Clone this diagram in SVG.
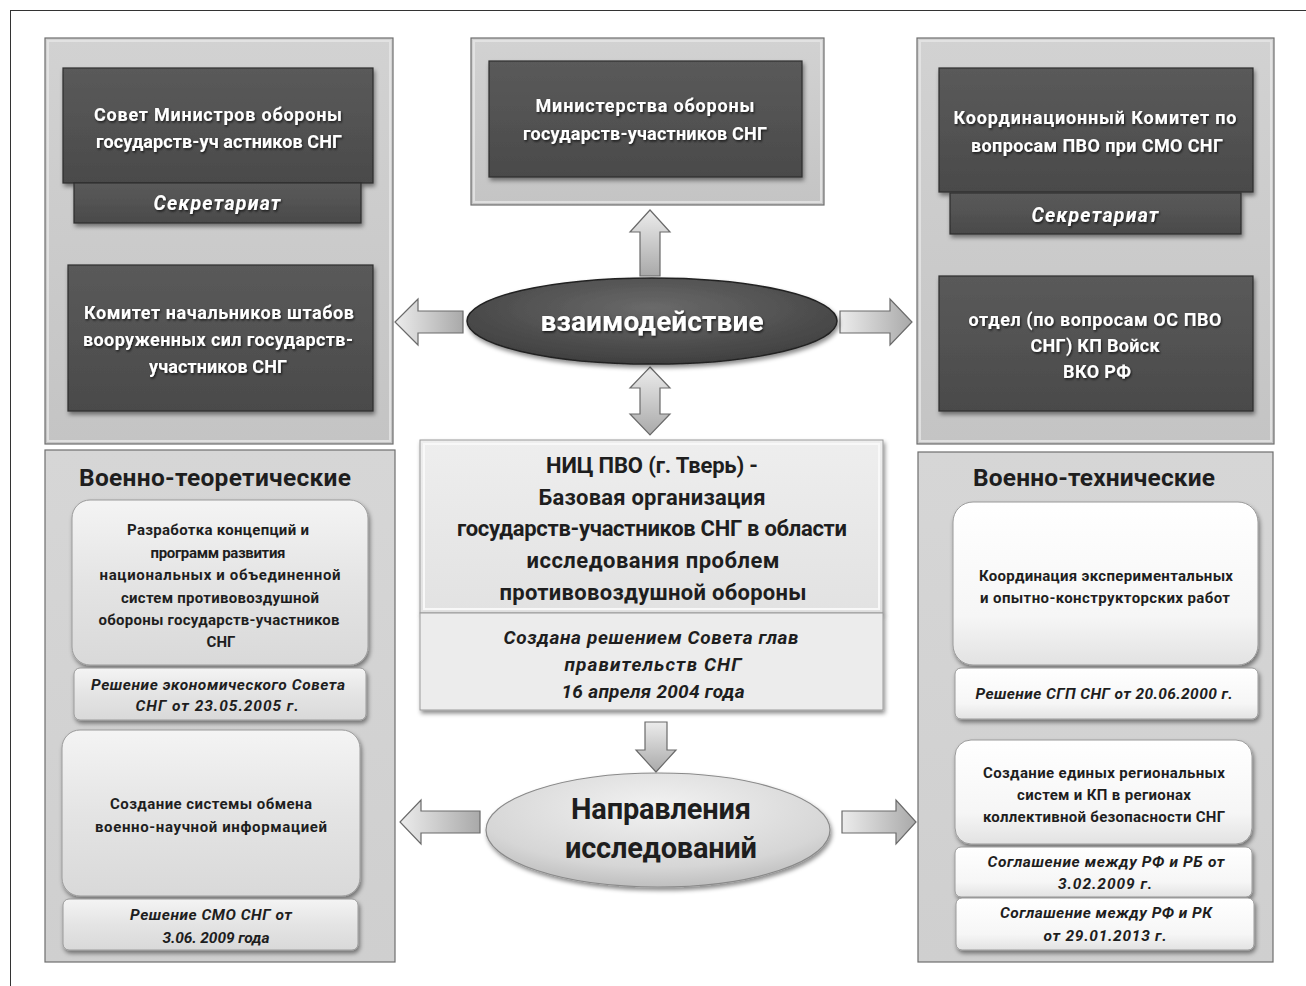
<svg xmlns="http://www.w3.org/2000/svg" width="1306" height="986" viewBox="0 0 1306 986">
<defs>
<style>
text{font-family:Roboto,"Noto Sans","DejaVu Sans",sans-serif;font-weight:bold;text-anchor:middle}
.w{fill:#ffffff}
.d{fill:#1e1e1e}
.it{font-style:italic}
.panel{fill:url(#gPanel);stroke:#6e6e6e;stroke-width:1.2}
.inner{fill:none;stroke:#e6e6e6;stroke-width:2;opacity:.8}
.dark{fill:url(#gDark);stroke:#2e2e2e;stroke-width:1.2;filter:url(#sh)}
.lbox{fill:url(#gLight);stroke:#9a9a9a;stroke-width:1;filter:url(#sh)}
.wbox{fill:url(#gWhite);stroke:#9a9a9a;stroke-width:1;filter:url(#sh)}
.arr{fill:url(#gArr);stroke:#6a6a6a;stroke-width:1.2}
.arrh{fill:url(#gArrH);stroke:#6a6a6a;stroke-width:1.2}
.f18{font-size:18px}
.fs{font-size:19.5px}
.f22{font-size:22px}
.f23{font-size:24.5px}
.f15{font-size:15px}
.fi{font-size:15.5px}
</style>
<linearGradient id="gPanel" x1="0" y1="0" x2="0" y2="1"><stop offset="0" stop-color="#d2d2d2"/><stop offset="1" stop-color="#c4c4c4"/></linearGradient>
<linearGradient id="gPanelL" x1="0" y1="0" x2="0" y2="1"><stop offset="0" stop-color="#d6d6d6"/><stop offset="1" stop-color="#cfcfcf"/></linearGradient>
<linearGradient id="gDark" x1="0" y1="0" x2="0" y2="1"><stop offset="0" stop-color="#5a5a5a"/><stop offset="1" stop-color="#4a4a4a"/></linearGradient>
<linearGradient id="gLight" x1="0" y1="0" x2="0" y2="1"><stop offset="0" stop-color="#f4f4f4"/><stop offset=".5" stop-color="#e4e4e4"/><stop offset="1" stop-color="#d9d9d9"/></linearGradient>
<linearGradient id="gWhite" x1="0" y1="0" x2="0" y2="1"><stop offset="0" stop-color="#ffffff"/><stop offset=".7" stop-color="#f6f6f6"/><stop offset="1" stop-color="#e2e2e2"/></linearGradient>
<linearGradient id="gCenter" x1="0" y1="0" x2="0" y2="1"><stop offset="0" stop-color="#eeeeee"/><stop offset="1" stop-color="#e2e2e2"/></linearGradient>
<linearGradient id="gArr" x1="0" y1="0" x2="1" y2="0"><stop offset="0" stop-color="#ececec"/><stop offset="1" stop-color="#a9a9a9"/></linearGradient>
<linearGradient id="gArrH" x1="0" y1="0" x2="0" y2="1"><stop offset="0" stop-color="#ececec"/><stop offset="1" stop-color="#a9a9a9"/></linearGradient>
<radialGradient id="gEl1" cx=".5" cy=".35" r=".7"><stop offset="0" stop-color="#6a6a6a"/><stop offset="1" stop-color="#3c3c3c"/></radialGradient>
<radialGradient id="gEl2" cx=".5" cy=".3" r=".75"><stop offset="0" stop-color="#f2f2f2"/><stop offset=".7" stop-color="#d6d6d6"/><stop offset="1" stop-color="#b8b8b8"/></radialGradient>
<filter id="sh" x="-10%" y="-10%" width="125%" height="130%"><feDropShadow dx="1.5" dy="3" stdDeviation="2" flood-color="#000" flood-opacity=".45"/></filter>
<filter id="tsh" x="-5%" y="-20%" width="110%" height="150%"><feDropShadow dx="1" dy="1.5" stdDeviation="1" flood-color="#000" flood-opacity=".7"/></filter>
</defs>
<rect width="1306" height="986" fill="#ffffff"/>
<rect x="10.5" y="10.5" width="1310" height="990" fill="none" stroke="#333" stroke-width="1"/>

<g id="connectors">
<path class="arrh" d="M640 276 V232 H630 L650 210 L670 232 H660 V276 Z"/>
<path class="arr" d="M463 311 H418 V299 L395 322 L418 345 V333 H463 Z"/>
<path class="arr" d="M840 311 H890 V299 L912 322 L890 345 V333 H840 Z"/>
<path class="arrh" d="M650 367 L670 388 H660 V414 H670 L650 435 L630 414 H640 V388 H630 Z"/>
<path class="arrh" d="M645 722 H667 V750 H676 L656 772 L636 750 H645 Z"/>
<path class="arr" d="M480 811 H421 V800 L400 822 L421 844 V833 H480 Z"/>
<path class="arr" d="M842 811 H896 V800 L916 822 L896 844 V833 H842 Z"/>
</g>

<g id="panel-left-top">
<rect class="panel" x="45" y="38" width="348" height="406"/>
<rect class="inner" x="48" y="41" width="342" height="400"/>
</g>
<g id="node-sovet">
<rect class="dark" x="63" y="68" width="310" height="115"/>
<text class="w f18" x="218" y="121" textLength="248" lengthAdjust="spacing" filter="url(#tsh)">Совет Министров обороны</text>
<text class="w f18" x="219" y="148" textLength="246" lengthAdjust="spacing" filter="url(#tsh)">государств-уч астников СНГ</text>
</g>
<g id="node-sekr1">
<rect class="dark" x="74" y="183" width="287" height="40"/>
<text class="w it fs" x="217" y="210" textLength="127" lengthAdjust="spacing" filter="url(#tsh)">Секретариат</text>
</g>
<g id="node-komitet">
<rect class="dark" x="68" y="265" width="305" height="146"/>
<text class="w f18" x="219" y="319" textLength="270" lengthAdjust="spacing" filter="url(#tsh)">Комитет начальников штабов</text>
<text class="w f18" x="218" y="346" textLength="270" lengthAdjust="spacing" filter="url(#tsh)">вооруженных сил государств-</text>
<text class="w f18" x="218" y="373" textLength="138" lengthAdjust="spacing" filter="url(#tsh)">участников СНГ</text>
</g>

<g id="panel-center-top">
<rect class="panel" x="471" y="38" width="353" height="167"/>
<rect class="inner" x="474" y="41" width="347" height="161"/>
</g>
<g id="node-ministerstva">
<rect class="dark" x="489" y="61" width="313" height="116"/>
<text class="w f18" x="645" y="112" textLength="219" lengthAdjust="spacing" filter="url(#tsh)">Министерства обороны</text>
<text class="w f18" x="645" y="140" textLength="244" lengthAdjust="spacing" filter="url(#tsh)">государств-участников СНГ</text>
</g>

<g id="panel-right-top">
<rect class="panel" x="917" y="38" width="357" height="406"/>
<rect class="inner" x="920" y="41" width="351" height="400"/>
</g>
<g id="node-koord">
<rect class="dark" x="939" y="68" width="314" height="124"/>
<text class="w f18" x="1095" y="124" textLength="283" lengthAdjust="spacing" filter="url(#tsh)">Координационный Комитет по</text>
<text class="w f18" x="1097" y="152" textLength="252" lengthAdjust="spacing" filter="url(#tsh)">вопросам ПВО при СМО СНГ</text>
</g>
<g id="node-sekr2">
<rect class="dark" x="950" y="193" width="291" height="41"/>
<text class="w it fs" x="1095" y="222" textLength="127" lengthAdjust="spacing" filter="url(#tsh)">Секретариат</text>
</g>
<g id="node-otdel">
<rect class="dark" x="939" y="276" width="314" height="135"/>
<text class="w f18" x="1095" y="326" textLength="253" lengthAdjust="spacing" filter="url(#tsh)">отдел (по вопросам ОС ПВО</text>
<text class="w f18" x="1095" y="352" textLength="129" lengthAdjust="spacing" filter="url(#tsh)">СНГ) КП Войск</text>
<text class="w f18" x="1097" y="378" textLength="68" lengthAdjust="spacing" filter="url(#tsh)">ВКО РФ</text>
</g>

<g id="node-vzaim">
<ellipse cx="652" cy="321" rx="185" ry="43" fill="url(#gEl1)" stroke="#222" stroke-width="1.5" filter="url(#sh)"/>
<text class="w" x="652" y="331" font-size="28" textLength="223" lengthAdjust="spacing" filter="url(#tsh)">взаимодействие</text>
</g>

<g id="node-nic">
<rect x="420" y="440" width="463" height="173" fill="url(#gCenter)" stroke="#9a9a9a" stroke-width="1" filter="url(#sh)"/>
<rect x="424" y="444" width="455" height="165" fill="none" stroke="#f8f8f8" stroke-width="2"/>
<text class="d f22" x="652" y="473" textLength="212" lengthAdjust="spacing">НИЦ ПВО (г. Тверь) -</text>
<text class="d f22" x="652" y="505" textLength="227" lengthAdjust="spacing">Базовая организация</text>
<text class="d f22" x="652" y="536" textLength="390" lengthAdjust="spacing">государств-участников СНГ в области</text>
<text class="d f22" x="653" y="568" textLength="253" lengthAdjust="spacing">исследования проблем</text>
<text class="d f22" x="653" y="600" textLength="307" lengthAdjust="spacing">противовоздушной обороны</text>
</g>
<g id="node-sozdana">
<rect x="420" y="613" width="463" height="97" fill="#ececec" stroke="#9a9a9a" stroke-width="1" filter="url(#sh)"/>
<text class="d it" x="651" y="644" font-size="19" textLength="295" lengthAdjust="spacing">Создана решением Совета глав</text>
<text class="d it" x="653" y="671" font-size="19" textLength="177" lengthAdjust="spacing">правительств СНГ</text>
<text class="d it" x="653" y="698" font-size="19" textLength="183" lengthAdjust="spacing">16 апреля 2004 года</text>
</g>

<g id="node-napr">
<ellipse cx="658" cy="830" rx="172" ry="57" fill="url(#gEl2)" stroke="#8a8a8a" stroke-width="1.2" filter="url(#sh)"/>
<text class="d" x="661" y="819" font-size="29" textLength="180" lengthAdjust="spacing">Направления</text>
<text class="d" x="661" y="858" font-size="29" textLength="192" lengthAdjust="spacing">исследований</text>
</g>

<g id="panel-left-bottom">
<rect x="45" y="450" width="350" height="512" fill="url(#gPanelL)" stroke="#6e6e6e" stroke-width="1.2"/>
<text class="d f23" x="215" y="486" textLength="272" lengthAdjust="spacing">Военно-теоретические</text>
</g>
<g id="node-razrabotka">
<rect class="lbox" x="72" y="500" width="296" height="165" rx="18"/>
<text class="d f15" x="218" y="535" textLength="182" lengthAdjust="spacing">Разработка концепций и</text>
<text class="d f15" x="218" y="558" textLength="135" lengthAdjust="spacing">программ развития</text>
<text class="d f15" x="220" y="580" textLength="241" lengthAdjust="spacing">национальных и объединенной</text>
<text class="d f15" x="220" y="603" textLength="198" lengthAdjust="spacing">систем противовоздушной</text>
<text class="d f15" x="219" y="625" textLength="241" lengthAdjust="spacing">обороны государств-участников</text>
<text class="d f15" x="221" y="647">СНГ</text>
</g>
<g id="node-resh1">
<rect class="lbox" x="74" y="668" width="292" height="52" rx="6"/>
<text class="d it fi" x="218" y="690" textLength="254" lengthAdjust="spacing">Решение экономического Совета</text>
<text class="d it fi" x="217" y="711" textLength="163" lengthAdjust="spacing">СНГ от 23.05.2005 г.</text>
</g>
<g id="node-obmen">
<rect class="lbox" x="62" y="730" width="298" height="166" rx="18"/>
<text class="d f15" x="211" y="809" textLength="202" lengthAdjust="spacing">Создание системы обмена</text>
<text class="d f15" x="211" y="832" textLength="232" lengthAdjust="spacing">военно-научной информацией</text>
</g>
<g id="node-resh2">
<rect class="lbox" x="63" y="899" width="295" height="51" rx="6"/>
<text class="d it fi" x="211" y="920" textLength="162" lengthAdjust="spacing">Решение СМО СНГ от</text>
<text class="d it fi" x="216" y="943" textLength="107" lengthAdjust="spacing">3.06. 2009 года</text>
</g>

<g id="panel-right-bottom">
<rect x="918" y="452" width="355" height="510" fill="url(#gPanelL)" stroke="#6e6e6e" stroke-width="1.2"/>
<text class="d f23" x="1094" y="486" textLength="242" lengthAdjust="spacing">Военно-технические</text>
</g>
<g id="node-koordinacia">
<rect class="wbox" x="953" y="502" width="305" height="163" rx="20"/>
<text class="d f15" x="1106" y="581" textLength="254" lengthAdjust="spacing">Координация экспериментальных</text>
<text class="d f15" x="1105" y="603" textLength="250" lengthAdjust="spacing">и опытно-конструкторских работ</text>
</g>
<g id="node-resh3">
<rect class="wbox" x="955" y="668" width="303" height="51" rx="6"/>
<text class="d it fi" x="1104" y="699" textLength="257" lengthAdjust="spacing">Решение СГП СНГ от 20.06.2000 г.</text>
</g>
<g id="node-edinye">
<rect class="wbox" x="955" y="740" width="297" height="104" rx="16"/>
<text class="d f15" x="1104" y="778" textLength="242" lengthAdjust="spacing">Создание единых региональных</text>
<text class="d f15" x="1104" y="800" textLength="174" lengthAdjust="spacing">систем и КП в регионах</text>
<text class="d f15" x="1104" y="822" textLength="242" lengthAdjust="spacing">коллективной безопасности СНГ</text>
</g>
<g id="node-sogl1">
<rect class="wbox" x="955" y="847" width="297" height="50" rx="6"/>
<text class="d it fi" x="1106" y="867" textLength="237" lengthAdjust="spacing">Соглашение между РФ и РБ от</text>
<text class="d it fi" x="1105" y="889" textLength="94" lengthAdjust="spacing">3.02.2009 г.</text>
</g>
<g id="node-sogl2">
<rect class="wbox" x="956" y="898" width="298" height="52" rx="6"/>
<text class="d it fi" x="1106" y="918" textLength="212" lengthAdjust="spacing">Соглашение между РФ и РК</text>
<text class="d it fi" x="1105" y="941" textLength="123" lengthAdjust="spacing">от 29.01.2013 г.</text>
</g>
</svg>
